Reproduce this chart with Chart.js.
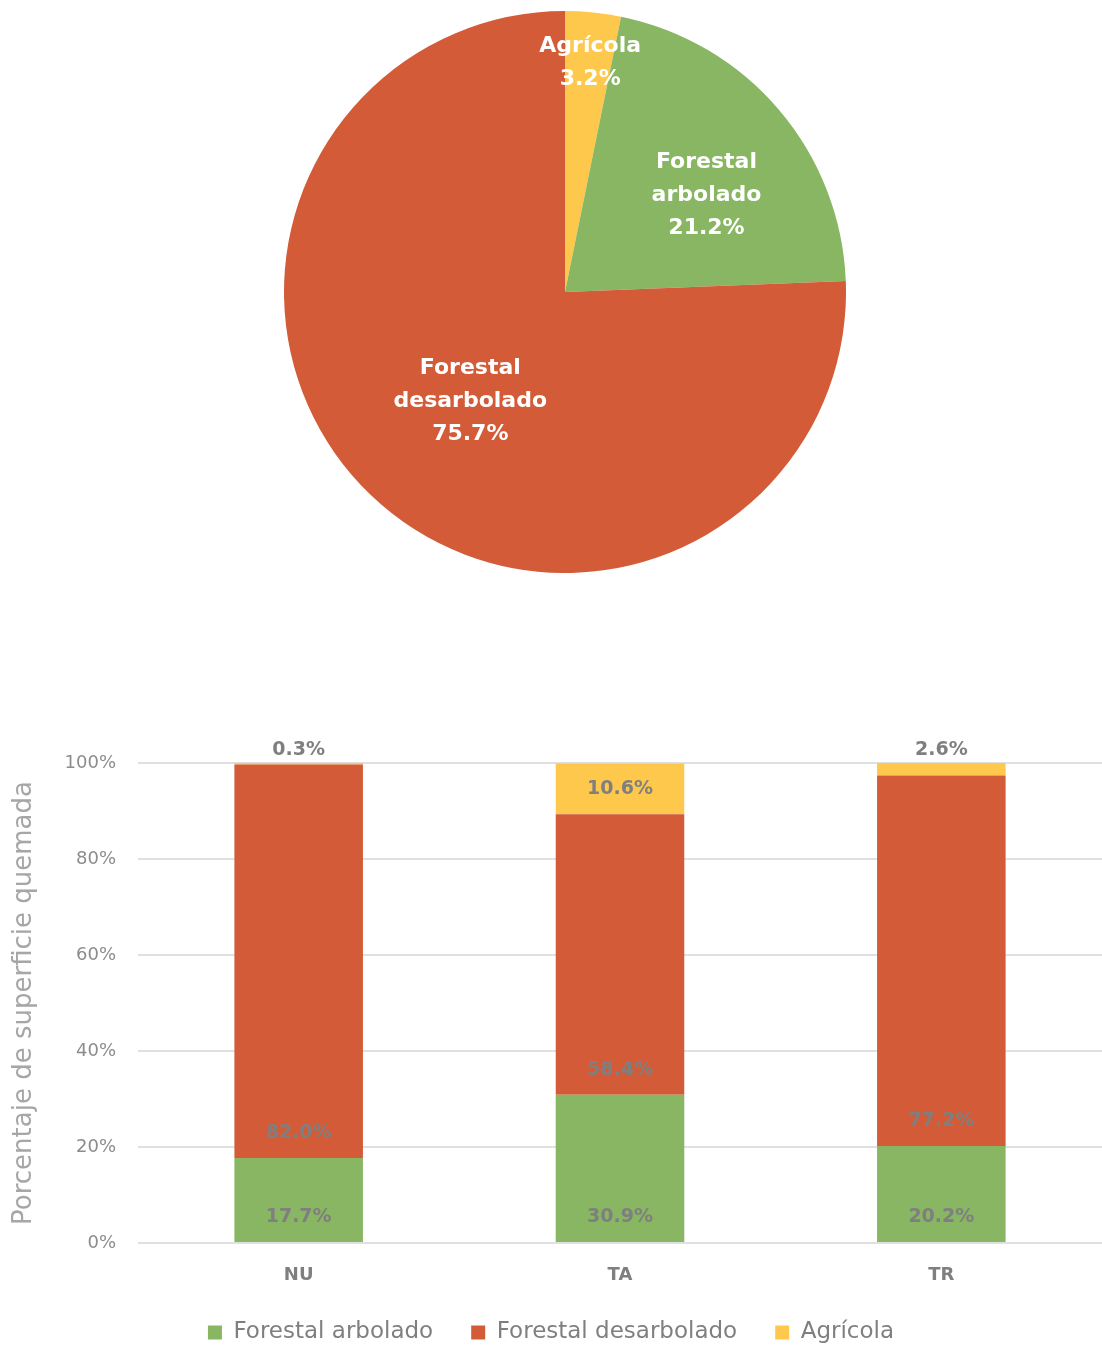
<!DOCTYPE html>
<html>
<head>
<meta charset="utf-8">
<script src="https://cdn.jsdelivr.net/npm/chart.js@4"></script>
<style>
  html, body { margin: 0; padding: 0; background: #fff; overflow: hidden; }
  #pieBox { position: absolute; left: 284px; top: 11px; }
  #barBox { position: absolute; left: 0; top: 700px; }
</style>
</head>
<body>
<div id="pieBox"><canvas id="pieChart" width="562" height="562"></canvas></div>
<div id="barBox"><canvas id="barChart" width="1102" height="654"></canvas></div>
<script>
// datos del gráfico circular
const pieCategories = ["Agrícola", "Forestal arbolado", "Forestal desarbolado"];
const pieValues = [3.2, 21.2, 75.7];
const pieLabelLines = [["Agrícola"], ["Forestal", "arbolado"], ["Forestal", "desarbolado"]];
const pieColors = ["#fec84d", "#88b662", "#d35b38"];

// datos de las barras apiladas
const regions = ["NU", "TA", "TR"];
const seriesNames = ["Forestal arbolado", "Forestal desarbolado", "Agrícola"];
const arboladoValues = [17.7, 30.9, 20.2];
const desarboladoValues = [82.0, 58.4, 77.2];
const agricolaValues = [0.3, 10.6, 2.6];
const seriesColors = ["#88b662", "#d35b38", "#fec84d"];
const yTicks = [0, 20, 40, 60, 80, 100];

const FONT = "'DejaVu Sans', sans-serif";
const GRAY = "#7f7f7f";

Chart.defaults.font.family = FONT;

// colocación de las etiquetas dentro de los sectores (radio relativo, giro en grados)
const pieLabelRadius = [0.822, 0.61, 0.515];
const pieLabelShift = [0.5, 6, -3];
const pieLabelPlugin = {
    id: "pieLabels",
    afterDatasetsDraw(chart) {
        let ctx = chart.ctx;
        let meta = chart.getDatasetMeta(0);
        ctx.save();
        ctx.fillStyle = "#ffffff";
        ctx.font = "bold 22px " + FONT;
        ctx.textAlign = "center";
        ctx.textBaseline = "middle";
        meta.data.forEach((arc, i) => {
            let mid = (arc.startAngle + arc.endAngle) / 2 + pieLabelShift[i] * Math.PI / 180;
            let r = arc.outerRadius * pieLabelRadius[i];
            let cx = arc.x + Math.cos(mid) * r;
            let cy = arc.y + Math.sin(mid) * r;
            let lines = pieLabelLines[i].concat(pieValues[i].toFixed(1) + "%");
            let lh = 33;
            let y0 = cy - (lines.length - 1) * lh / 2;
            lines.forEach((t, k) => ctx.fillText(t, cx, y0 + k * lh));
        });
        ctx.restore();
    }
};

new Chart(document.getElementById("pieChart").getContext("2d"), {
    type: "pie",
    data: {
        labels: pieCategories,
        datasets: [{ data: pieValues, backgroundColor: pieColors, borderWidth: 0 }]
    },
    options: {
        responsive: false,
        devicePixelRatio: 1,
        animation: false,
        layout: { padding: 0 },
        plugins: { legend: { display: false }, tooltip: { enabled: false } }
    },
    plugins: [pieLabelPlugin]
});

// etiquetas de las barras (en la base de cada segmento; las pequeñas, encima de la barra)
const barLabelPlugin = {
    id: "barLabels",
    afterDatasetsDraw(chart) {
        let ctx = chart.ctx;
        ctx.save();
        ctx.fillStyle = GRAY;
        ctx.font = "bold 19px " + FONT;
        ctx.textAlign = "center";
        ctx.textBaseline = "middle";
        chart.data.datasets.forEach((ds, di) => {
            chart.getDatasetMeta(di).data.forEach((bar, i) => {
                let y = bar.base - 25;
                if (bar.base - bar.y <= 30) y = Math.max(y, chart.chartArea.top - 13);
                ctx.fillText(ds.data[i].toFixed(1) + "%", bar.x, y);
            });
        });
        ctx.restore();
    }
};

new Chart(document.getElementById("barChart").getContext("2d"), {
    type: "bar",
    data: {
        labels: regions,
        datasets: [
            { label: seriesNames[0], data: arboladoValues, backgroundColor: seriesColors[0] },
            { label: seriesNames[1], data: desarboladoValues, backgroundColor: seriesColors[1] },
            { label: seriesNames[2], data: agricolaValues, backgroundColor: seriesColors[2] }
        ]
    },
    options: {
        responsive: false,
        devicePixelRatio: 1,
        animation: false,
        layout: { padding: { top: 63, right: 0, left: 0, bottom: 0 } },
        datasets: { bar: { barPercentage: 0.4, categoryPercentage: 1 } },
        scales: {
            x: {
                stacked: true,
                grid: { display: false, drawTicks: false },
                border: { display: false },
                ticks: { color: GRAY, font: { size: 18, weight: "bold" }, padding: 22 },
                afterFit: s => { s.height = 40; }
            },
            y: {
                stacked: true,
                min: 0,
                max: 100,
                afterBuildTicks: s => { s.ticks = yTicks.map(v => ({ value: v })); },
                grid: { color: "#e0e0e0", lineWidth: 2, drawTicks: false },
                border: { display: false },
                ticks: { color: "#8c8c8c", font: { size: 18 }, padding: 22, callback: v => v + "%" },
                title: {
                    display: true,
                    text: "Porcentaje de superficie quemada",
                    color: "#a6a6a6",
                    font: { size: 26 },
                    padding: { top: 9, bottom: 0 }
                },
                afterFit: s => { s.width = 138; }
            }
        },
        plugins: {
            legend: {
                position: "bottom",
                labels: {
                    color: GRAY,
                    font: { size: 23 },
                    boxWidth: 14,
                    boxHeight: 14,
                    padding: 38
                }
            },
            tooltip: { enabled: false }
        }
    },
    plugins: [barLabelPlugin]
});
</script>
</body>
</html>
